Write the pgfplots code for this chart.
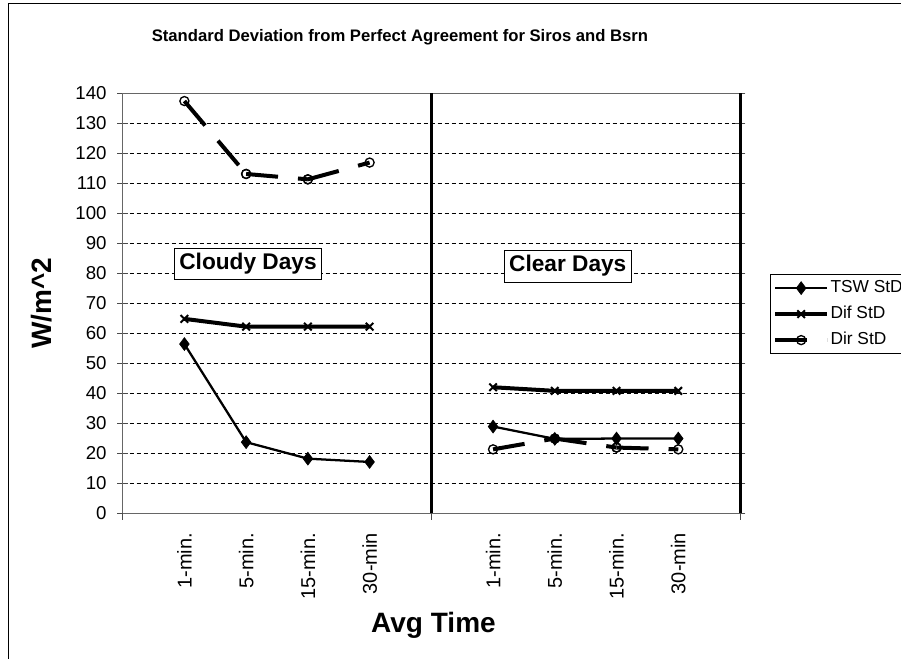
\documentclass[border=0pt]{standalone}
\usepackage{fontspec}
\setmainfont{Liberation Sans}
\usepackage{pgfplots}
\pgfplotsset{compat=1.18}
\begin{document}
\begin{tikzpicture}
\useasboundingbox (0pt,0pt) rectangle (675.75pt,494.25pt);
\draw[line width=0.9pt] (6.2pt,-5pt) -- (6.2pt,491.8pt) -- (680pt,491.8pt);
\node[anchor=base, font=\bfseries\fontsize{12.5}{15}\selectfont] at (300pt,462.75pt)
  {Standard Deviation from Perfect Agreement for Siros and Bsrn};
\begin{axis}[
  at={(92.0pt,109.3pt)}, anchor=south west,
  width=463pt, height=315pt, scale only axis,
  clip=false,
  xmin=0, xmax=10, ymin=0, ymax=140,
  xtick={1,2,3,4,6,7,8,9},
  xticklabels={1-min.,5-min.,15-min.,30-min,1-min.,5-min.,15-min.,30-min},
  xtick style={draw=none},
  ytick={0,10,...,140},
  tick align=center,
  major tick length=8pt,
  ytick style={black!70, line width=0.6pt},
  ymajorgrids,
  grid style={black, line width=0.5pt, dash pattern=on 3pt off 2.25pt},
  axis line style={black!60, line width=0.75pt},
  /pgf/number format/assume math mode=true,
  yticklabel style={font=\fontsize{14}{17}\selectfont},
  yticklabel shift=4.5pt,
  xticklabel style={font=\fontsize{15}{18}\selectfont, rotate=90, anchor=east},
  xticklabel shift=7.3pt,
  every axis y label/.style={at={(axis description cs:-0.1315,0.5)}, rotate=90, anchor=center,
     font=\bfseries\fontsize{21}{25}\selectfont},
  every axis x label/.style={at={(axis description cs:0.5035,-0.285)}, anchor=base,
     font=\bfseries\fontsize{21}{25}\selectfont},
  ylabel={W/m\textasciicircum 2},
  xlabel={Avg Time},
  legend image code/.code={\draw[mark repeat=2, mark phase=2, #1] plot coordinates {(0pt,0pt) (19.5pt,0pt) (39pt,0pt)};},
  legend style={at={(axis description cs:1.0486,0.5698)}, anchor=north west,
     draw=black, line width=0.75pt, font=\fontsize{13}{15}\selectfont,
     inner xsep=2pt, inner ysep=2pt, row sep=3pt,
     nodes={inner xsep=1pt, inner ysep=2pt, text height=9.5pt, text depth=3pt},
     cells={anchor=west}},
  tsw/.style={black, line width=1.7pt, mark=diamond*, mark size=4.8pt, mark options={solid, line width=0.5pt}},
  dif/.style={black, line width=3pt, mark=x, mark size=4pt, mark options={solid, line width=1.5pt}},
  dir/.style={black, line width=3pt, line cap=butt, dash pattern=on 24pt off 15pt,
     mark=o, mark size=3.4pt, mark options={solid, fill=white, line width=1pt}},
]
% TSW StD
\addplot[tsw] coordinates {(1,56.4) (2,23.7) (3,18.2) (4,17.1)};
\addlegendentry{TSW StD}
% Dif StD
\addplot[dif] coordinates {(1,64.8) (2,62.2) (3,62.2) (4,62.2)};
\addlegendentry{Dif StD}
% Dir StD (segments, dash restarts in each)
\addplot[dir] coordinates {(1,137.4) (2,113.1)};
\addlegendentry{Dir StD}
\addplot[dir, forget plot] coordinates {(2,113.1) (3,111.3)};
\addplot[dir, forget plot] coordinates {(3,111.3) (4,116.9)};
% clear days
\addplot[tsw, forget plot] coordinates {(6,28.9) (7,24.8) (8,24.9) (9,24.9)};
\addplot[dif, forget plot] coordinates {(6,42.0) (7,40.8) (8,40.8) (9,40.8)};
\addplot[dir, forget plot] coordinates {(6,21.3) (7,24.9)};
\addplot[dir, forget plot] coordinates {(7,24.9) (8,21.9)};
\addplot[dir, forget plot] coordinates {(8,21.9) (9,21.3)};
% separators
\draw[line width=2.25pt] (axis cs:5,0) -- (axis cs:5,140);
\draw[line width=2.25pt] (axis cs:10,0) -- (axis cs:10,140);
% small tick marks at the group boundaries
\draw[black!70, line width=0.6pt] (axis cs:0,0) -- ++(0pt,-5pt);
\draw[black!70, line width=0.6pt] (axis cs:5,0) -- ++(0pt,-5pt);
\draw[black!70, line width=0.6pt] (axis cs:10,0) -- ++(0pt,-5pt);
% group labels
\node[draw=black, line width=0.6pt, fill=white, inner xsep=3.5pt, inner ysep=4pt,
  font=\bfseries\fontsize{17}{20}\selectfont] at (axis cs:2.03,83.1) {Cloudy Days};
\node[draw=black, line width=0.6pt, fill=white, inner xsep=3.5pt, inner ysep=4pt,
  font=\bfseries\fontsize{17}{20}\selectfont] at (axis cs:7.21,82.4) {Clear Days};
\end{axis}
\end{tikzpicture}
\end{document}
